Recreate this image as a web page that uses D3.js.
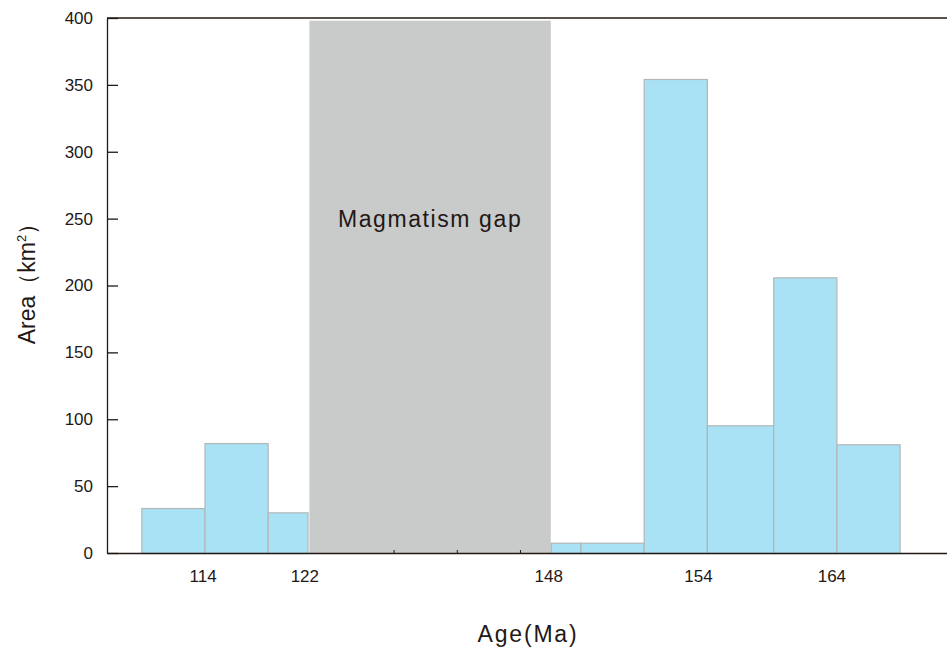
<!DOCTYPE html>
<meta charset='utf-8'>
<style>
	body { margin: 0; background: #fff; }
	#container text { font-family: 'Liberation Sans', Arial, sans-serif; fill: #231815; }
</style>
<body>
	<div id='container'>
	</div>
<script src='https://d3js.org/d3.v7.min.js'></script>
<script>
    // histogram bins, x in "bin units" (one standard bin = 1 unit)
    const binStart = [0, 1, 2.0, 6.48, 6.95, 7.95, 8.95, 10, 11];
    const binEnd   = [1, 2, 2.63, 6.95, 7.95, 8.95, 10, 11, 12];
    const areas    = [33.6, 82.2, 30.4, 7.7, 7.7, 354.4, 95.5, 206.1, 81.3];

    const gapSpan = [2.66, 6.48], gapHeight = 398, gapLabel = 'Magmatism gap';

    const tickPos    = [0.97, 2.58, 6.44, 8.81, 10.92];
    const tickLabels = ['114', '122', '148', '154', '164'];
    const minorTicks = [4, 5, 6];
    const yTicks     = [0, 50, 100, 150, 200, 250, 300, 350, 400];

    const margin = {
			top: 18, left: 107, right: 0, bottom: 97,
        },
        width = 947 - margin.left - margin.right,
		height = 650 - margin.top - margin.bottom;

	let xScale = d3.scaleLinear()
		.domain( [-0.543, 12.75] )
		.range( [0, width] );
	let yScale = d3.scaleLinear()
		.domain( [0, 400] )
		.range( [height, 0] );

    let svg = d3.select( '#container' )
		.append( 'svg' )
		.attr( 'width', 947 )
		.attr( 'height', 650 )
			.append( 'g' )
				.attr( 'transform', `translate( ${margin.left}, ${margin.top} )` );

	// grey gap block
	svg.append( 'rect' )
		.attr( 'x', xScale( gapSpan[0] ) )
		.attr( 'y', yScale( gapHeight ) )
		.attr( 'width', xScale( gapSpan[1] ) - xScale( gapSpan[0] ) )
		.attr( 'height', yScale( 0 ) - yScale( gapHeight ) )
		.attr( 'fill', '#c9caca' );

	svg.append( 'text' )
		.attr( 'x', xScale( ( gapSpan[0] + gapSpan[1] ) / 2 ) )
		.attr( 'y', 209 )
		.attr( 'text-anchor', 'middle' )
		.style( 'font-size', '23px' )
		.style( 'letter-spacing', '1.6px' )
		.text( gapLabel );

	// minor ticks inside the gap
	svg.selectAll( '.minor' )
		.data( minorTicks )
		.enter().append( 'line' )
			.attr( 'x1', d => xScale( d ) ).attr( 'x2', d => xScale( d ) )
			.attr( 'y1', height ).attr( 'y2', height - 3 )
			.attr( 'stroke', '#231815' );

	// bars
	svg.selectAll( '.bar' )
		.data( areas )
		.enter().append( 'rect' )
			.attr( 'class', 'bar' )
			.attr( 'x', ( d, i ) => xScale( binStart[i] ) + 0.5 )
			.attr( 'y', d => yScale( d ) + 0.5 )
			.attr( 'width', ( d, i ) => xScale( binEnd[i] ) - xScale( binStart[i] ) )
			.attr( 'height', d => yScale( 0 ) - yScale( d ) )
			.attr( 'fill', '#a8e2f4' )
			.attr( 'stroke', '#b4b6b8' )
			.attr( 'stroke-width', 1.2 );

	// y axis, ticks pointing inward
	let yAxis = d3.axisLeft( yScale )
		.tickValues( yTicks )
		.tickSizeInner( -11 )
		.tickSizeOuter( 0 )
		.tickPadding( 14 );

	let yAxisEl = svg.append( 'g' )
		.attr( 'class', 'y axis' )
		.call( yAxis );
	yAxisEl.selectAll( 'path, line' ).attr( 'stroke', '#231815' ).attr( 'stroke-width', 1.3 );
	yAxisEl.selectAll( 'text' ).style( 'font-size', '17px' ).attr( 'fill', '#231815' );

	// x axis, labels only
	let xAxis = d3.axisBottom( xScale )
		.tickValues( tickPos )
		.tickFormat( ( d, i ) => tickLabels[i] )
		.tickSize( 0 )
		.tickPadding( 17 );

	let xAxisEl = svg.append( 'g' )
		.attr( 'class', 'x axis' )
		.attr( 'transform', `translate( 0, ${height} )` )
		.call( xAxis );
	xAxisEl.select( '.domain' ).attr( 'stroke', '#231815' ).attr( 'stroke-width', 1.6 );
	xAxisEl.selectAll( 'text' ).style( 'font-size', '17px' ).attr( 'fill', '#231815' );

	// top frame line
	svg.append( 'line' )
		.attr( 'x1', 0 ).attr( 'x2', width )
		.attr( 'y1', 0 ).attr( 'y2', 0 )
		.attr( 'stroke', '#231815' )
		.attr( 'stroke-width', 1.6 );

	// axis titles
	svg.append( 'text' )
		.attr( 'x', 528 - margin.left )
		.attr( 'y', 642 - margin.top )
		.attr( 'text-anchor', 'middle' )
		.style( 'font-size', '23px' )
		.style( 'letter-spacing', '1.8px' )
		.text( 'Age(Ma)' );

	let yTitle = svg.append( 'text' )
		.attr( 'transform', `translate( ${35 - margin.left}, ${278 - margin.top} ) rotate( -90 )` )
		.attr( 'text-anchor', 'middle' )
		.style( 'font-size', '23px' );
	yTitle.append( 'tspan' ).text( 'Area（km' );
	yTitle.append( 'tspan' ).attr( 'dy', -9 ).style( 'font-size', '13px' ).text( '2' );
	yTitle.append( 'tspan' ).attr( 'dy', 9 ).text( '）' );
</script>
</body>
